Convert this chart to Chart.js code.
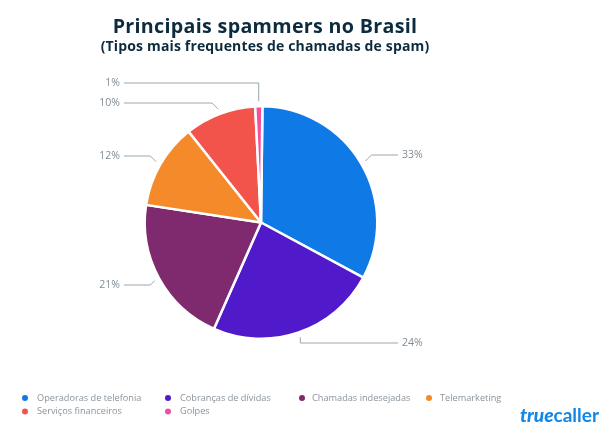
<!DOCTYPE html>
<html>
<head>
<meta charset="utf-8">
<style>html,body{margin:0;padding:0;background:#fff}canvas{display:block}</style>
<script src="https://cdn.jsdelivr.net/npm/chart.js@4"></script>
</head>
<body>
<canvas id="c" width="615" height="441"></canvas>
<script>
const categories = ["Operadoras de telefonia","Cobranças de dívidas","Chamadas indesejadas","Telemarketing","Serviços financeiros","Golpes"];
const shares = [33,24,21,12,10,1];
const sliceColors = ["#0f7ae5","#5019c9","#7f2a6e","#f58a2a","#f2544b","#f0509f"];
const titleText = "Principais spammers no Brasil";
const subtitleText = "(Tipos mais frequentes de chamadas de spam)";
const labelY = [155,343,285,156,103,83];
const elbowSlant = [1,0,1,1,1,0];
const legendX = [25,168,302,429,25,168];
const legendY = [398,398,398,398,411.5,411.5];

const overlay = {
  id:'overlay',
  afterDraw(chart){
    const ctx = chart.ctx;
    ctx.save();
    ctx.textBaseline='middle';
    ctx.fillStyle='#0d2b3e';
    ctx.textAlign='center';
    ctx.font='700 19.7px "Open Sans"';
    ctx.letterSpacing='0.3px';
    ctx.fillText(titleText,265,27);
    ctx.font='700 14px "Open Sans"';
    ctx.letterSpacing='0.15px';
    ctx.fillText(subtitleText,265,47);
    ctx.letterSpacing='0px';

    const arcs = chart.getDatasetMeta(0).data;
    arcs.forEach((a,i)=>{
      const p = a.getProps(['x','y','startAngle','endAngle','outerRadius'],true);
      const mid=(p.startAngle+p.endAngle)/2;
      const r=p.outerRadius+5;
      const sx=p.x+r*Math.cos(mid), sy=p.y+r*Math.sin(mid);
      const y=labelY[i];
      const right=sx>p.x;
      const ex=sx+(right?1:-1)*elbowSlant[i]*Math.abs(y-sy);
      const endX=right?398:124;
      ctx.strokeStyle='#9aa7ae';
      ctx.lineWidth=1;
      ctx.beginPath();ctx.moveTo(sx,sy);ctx.lineTo(ex,y);ctx.lineTo(endX,y);ctx.stroke();
      ctx.fillStyle='#7f8c95';
      ctx.font='10.5px "Open Sans"';
      ctx.textAlign=right?'left':'right';
      ctx.fillText(shares[i]+'%',right?402:120,y);
    });

    ctx.textAlign='left';
    categories.forEach((c,i)=>{
      ctx.fillStyle=sliceColors[i];
      ctx.beginPath();ctx.arc(legendX[i],legendY[i],3,0,Math.PI*2);ctx.fill();
      ctx.fillStyle='#8a949c';
      ctx.font='9.2px "Open Sans"';
      ctx.fillText(c,legendX[i]+(i===2?10:i===3?11:12),legendY[i]);
    });

    ctx.fillStyle='#1287e8';
    ctx.font='italic 900 19px "Lato"';
    ctx.fillText('true',520,416);
    const w=ctx.measureText('true').width;
    ctx.font='700 19px "Lato"';
    ctx.fillText('caller',520+w,416);
    ctx.restore();
  }
};

new Chart(document.getElementById('c'),{
  type:'pie',
  data:{labels:categories,datasets:[{data:shares,backgroundColor:sliceColors,borderColor:'#fff',borderWidth:2.5,hoverOffset:0}]},
  options:{
    responsive:false,animation:false,rotation:0.7,
    layout:{padding:{left:143.5,right:236.5,top:105,bottom:101}},
    plugins:{legend:{display:false},tooltip:{enabled:false},title:{display:false}}
  },
  plugins:[overlay]
});
</script>
</body>
</html>
